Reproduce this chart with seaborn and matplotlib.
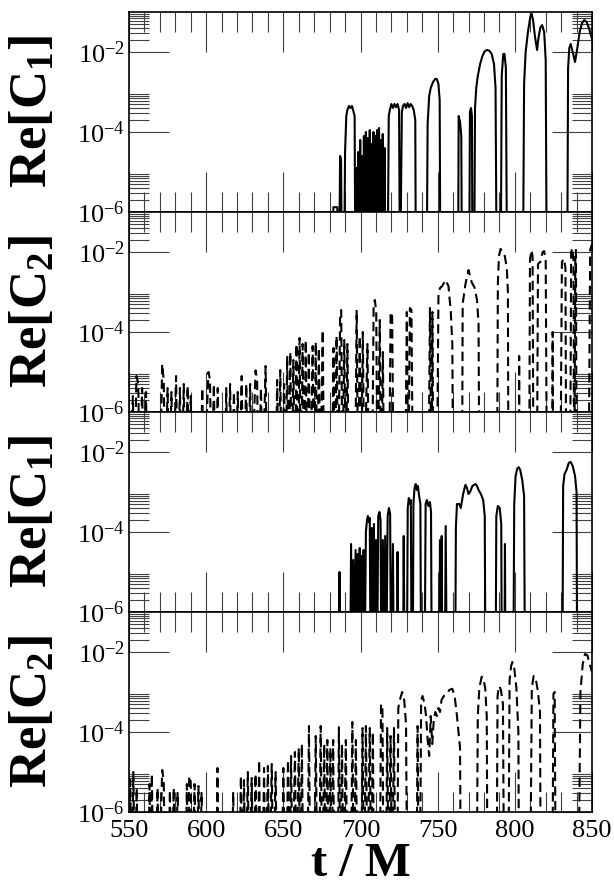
import numpy as np
import matplotlib
matplotlib.use("Agg")
import matplotlib.pyplot as plt
import seaborn as sns
from matplotlib.ticker import FixedLocator, MultipleLocator, LogFormatterMathtext, NullFormatter

# values are log10 of Re[C]; -8 means "below the plot floor"
t_p1 = [550, 682.3, 682.4, 685.0, 685.1, 686.0, 686.8, 687.4, 688.0,
        689.3, 690.0, 690.8, 691.5, 692.5, 693.5, 694.5, 695.5, 696.2, 696.7,
        697.5, 698.0, 698.5, 699.2, 699.8, 700.4, 701.0, 701.6, 702.2, 702.9,
        703.5, 704.2, 704.8, 705.4, 706.0, 706.7, 707.3, 707.9, 708.4, 709.0,
        709.6, 710.2, 710.8, 711.5, 712.0, 712.6, 713.2, 713.8, 714.4, 715.0,
        715.6, 716.2, 717.5, 718.3, 719.0, 720.0, 721.0, 722.0, 723.0, 724.0,
        725.0, 725.6, 726.8, 727.5, 728.5, 729.5, 730.5, 731.5, 732.5, 733.5,
        734.5, 735.5, 735.9, 742.8, 743.5, 744.5, 745.5, 747.0, 748.5, 749.5,
        750.5, 751.3, 751.8, 763.2, 763.6, 764.5, 765.3, 765.8, 770.4, 770.9,
        771.6, 772.2, 772.6, 773.6, 774.2, 775.0, 776.0, 777.5, 779.0, 780.5,
        782.0, 783.5, 785.0, 786.5, 787.5, 788.3, 790.8, 791.5, 792.5, 793.3,
        794.2, 795.0, 805.2, 806.0, 807.0, 808.5, 810.0, 810.8, 811.8, 813.0,
        814.4, 815.5, 816.6, 817.7, 819.0, 820.0, 820.7, 833.9, 834.5, 835.3,
        836.2, 837.5, 839.0, 840.5, 842.0, 843.5, 845.0, 846.5, 848.0, 850.0]
lg_p1 = [-8, -8, -5.88, -5.88, -8, -8, -4.6, -4.7, -8,
         -8, -4.5, -3.6, -3.45, -3.35, -3.4, -3.35, -3.5, -3.6, -8,
         -4.9, -8, -4.5, -8, -4.2, -8, -4.6, -8, -4.1, -8,
         -4.0, -8, -4.15, -8, -3.95, -8, -4.3, -8, -4.0, -8,
         -4.1, -8, -3.95, -8, -3.9, -8, -4.2, -8, -4.05, -8,
         -4.4, -8, -8, -3.6, -3.45, -3.3, -3.4, -3.3, -3.38, -3.3,
         -3.45, -8, -3.5, -3.35, -3.3, -3.4, -3.28, -3.38, -3.3, -3.35,
         -3.45, -3.7, -8, -8, -3.8, -3.1, -2.9, -2.75, -2.67, -2.68,
         -2.8, -3.2, -8, -8, -3.6, -3.75, -4.1, -8, -8, -3.5,
         -3.4, -3.6, -8, -8, -3.4, -2.9, -2.6, -2.3, -2.1, -1.98,
         -1.95, -1.97, -2.05, -2.3, -2.9, -8, -8, -2.6, -2.05, -2.05,
         -2.4, -8, -8, -2.8, -2.0, -1.5, -1.12, -1.04, -1.2, -1.6,
         -1.95, -1.6, -1.38, -1.33, -1.5, -2.2, -8, -8, -2.4, -1.9,
         -1.8, -2.0, -2.25, -1.9, -1.5, -1.28, -1.2, -1.25, -1.4, -1.67]

t_p2 = [550, 552.5, 553.5, 554.8, 556.0, 557.0, 558.5, 559.5, 561.0, 562.0,
        570.0, 571.5, 572.5, 573.5, 575.0, 576.0, 577.5, 578.5, 580.5, 581.5,
        583.0, 584.0, 585.5, 586.5, 588.0, 589.0, 590.0, 591.0, 596.0, 597.5,
        598.5, 601.5, 602.5, 603.5, 605.0, 606.0, 607.5, 608.5, 612.0, 613.0,
        614.0, 615.5, 616.5, 618.0, 619.0, 620.5, 621.5, 623.0, 624.0, 626.0,
        627.0, 628.5, 629.5, 632.0, 633.0, 634.0, 635.5, 636.5, 638.5, 639.5,
        645.0, 646.0, 647.0, 648.0, 649.0, 650.5, 651.5, 652.5, 653.5, 654.5,
        655.5, 656.5, 657.5, 658.5, 659.5, 660.5, 661.5, 662.5, 663.5, 664.5,
        665.5, 666.5, 667.5, 669.0, 670.0, 671.0, 672.0, 673.0, 674.0, 675.5,
        676.5, 681.5, 682.5, 683.5, 684.5, 685.5, 686.8, 687.5, 688.3, 689.5,
        690.5, 691.5, 692.5, 696.5, 697.5, 698.5, 699.5, 700.5, 701.5, 702.5,
        704.5, 705.5, 707.5, 708.5, 709.3, 710.2, 711.0, 712.5, 713.3, 714.5,
        715.3, 718.5, 719.5, 720.5, 721.5, 729.0, 730.0, 731.0, 732.0, 733.0,
        734.0, 744.0, 745.0, 746.0, 746.6, 747.2, 749.5, 750.5, 751.5, 753.0,
        755.0, 757.0, 758.5, 759.5, 760.0, 765.8, 766.2, 768.0, 770.0, 772.0,
        774.0, 775.5, 776.5, 777.0, 788.5, 789.0, 789.7, 790.8, 792.0, 793.5,
        794.8, 795.5, 795.9, 802.5, 802.8, 803.1, 809.3, 809.8, 810.7, 811.5,
        812.1, 814.3, 815.0, 816.5, 818.0, 819.0, 820.0, 820.8, 824.2, 824.5,
        824.8, 829.5, 830.5, 831.8, 832.8, 833.3, 835.8, 836.5, 837.3, 838.0,
        838.5, 839.2, 839.6, 840.0, 847.8, 848.8, 850.0]
lg_p2 = [-8, -5.6, -8, -5.1, -5.3, -8, -5.4, -8, -5.5, -8,
         -8, -4.8, -5.2, -8, -5.4, -8, -5.5, -8, -5.1, -8,
         -5.4, -8, -5.3, -8, -5.35, -8, -5.6, -8, -8, -5.4,
         -8, -5.0, -5.2, -8, -5.3, -8, -5.4, -8, -8, -5.4,
         -8, -5.3, -8, -5.5, -8, -5.5, -8, -5.1, -8, -5.3,
         -8, -5.3, -8, -4.96, -5.2, -8, -5.4, -8, -4.85, -8,
         -8, -5.2, -8, -4.95, -8, -5.3, -8, -4.6, -8, -4.5,
         -8, -4.7, -8, -4.3, -8, -4.15, -8, -4.3, -8, -4.2,
         -8, -4.5, -8, -4.35, -8, -4.25, -8, -4.4, -8, -3.95,
         -8, -8, -4.4, -8, -4.1, -8, -3.6, -3.45, -8, -4.2,
         -8, -4.3, -8, -8, -3.45, -8, -4.1, -8, -4.0, -8,
         -4.3, -8, -8, -3.35, -3.2, -3.5, -8, -3.7, -8, -4.5,
         -8, -8, -3.5, -3.6, -8, -8, -3.5, -8, -3.4, -3.45,
         -8, -8, -3.4, -8, -3.5, -8, -8, -3.1, -2.9, -2.85,
         -2.7, -2.85, -3.5, -4.3, -8, -8, -3.3, -2.8, -2.45, -2.75,
         -2.9, -3.2, -3.8, -8, -8, -2.8, -2.1, -1.92, -2.0, -2.1,
         -2.4, -3.0, -8, -8, -4.6, -8, -8, -2.2, -1.95, -2.1,
         -8, -8, -2.3, -2.25, -2.0, -1.98, -2.2, -8, -8, -4.0,
         -8, -8, -2.25, -2.17, -2.4, -8, -8, -2.0, -1.9, -2.2,
         -8, -2.1, -1.95, -8, -8, -1.95, -1.8]

t_p3 = [550, 685.8, 686.4, 686.9, 693.2, 693.9, 694.6, 695.3, 696.0, 696.8,
        697.4, 698.2, 698.8, 699.5, 700.1, 700.7, 701.3, 702.0, 702.6, 703.5,
        704.2, 704.8, 705.4, 706.0, 706.6, 707.4, 708.0, 708.7, 709.4, 710.1,
        710.7, 711.5, 712.3, 713.0, 713.6, 714.5, 715.2, 716.0, 716.6, 717.6,
        718.4, 719.2, 719.8, 721.0, 721.7, 723.6, 724.0, 724.6, 727.5, 728.0,
        728.6, 730.0, 730.6, 731.3, 732.0, 732.6, 733.2, 733.8, 734.3, 735.0,
        735.8, 736.5, 737.2, 738.0, 738.8, 739.3, 741.5, 742.2, 743.0, 744.0,
        745.0, 745.7, 746.2, 751.0, 751.5, 752.0, 752.6, 753.1, 754.6, 755.2,
        756.0, 761.3, 761.8, 762.5, 764.0, 765.0, 766.5, 768.0, 769.0, 770.0,
        771.0, 772.5, 774.5, 775.5, 776.5, 778.0, 779.5, 780.5, 781.0, 787.5,
        788.0, 789.0, 790.2, 791.2, 791.6, 793.2, 793.6, 794.0, 799.0, 799.6,
        800.5, 801.5, 802.5, 803.5, 804.8, 806.0, 806.6, 830.8, 831.3, 832.2,
        833.5, 835.0, 836.2, 837.5, 839.0, 840.0, 840.4, 850.0]
lg_p3 = [-8, -8, -5.0, -8, -8, -4.3, -8, -4.7, -8, -4.45,
         -8, -4.55, -8, -4.4, -8, -4.6, -8, -4.45, -8, -4.0,
         -3.7, -3.6, -3.75, -3.65, -8, -3.9, -8, -3.8, -8, -4.2,
         -8, -3.6, -3.5, -3.7, -8, -4.2, -8, -4.1, -8, -3.6,
         -3.4, -3.55, -8, -4.3, -8, -8, -4.5, -8, -8, -4.1,
         -8, -8, -3.4, -3.15, -3.3, -3.2, -8, -8, -3.3, -2.9,
         -2.8, -2.95, -2.85, -3.1, -3.3, -8, -8, -3.3, -3.2, -3.35,
         -3.25, -3.5, -8, -8, -4.2, -8, -4.1, -8, -8, -3.85,
         -8, -8, -3.9, -3.3, -3.3, -3.4, -3.05, -2.82, -2.9, -3.05,
         -3.0, -2.85, -2.8, -2.85, -2.95, -3.05, -3.2, -3.6, -8, -8,
         -3.6, -3.35, -3.4, -3.8, -8, -8, -4.3, -8, -8, -3.3,
         -2.6, -2.42, -2.38, -2.45, -2.7, -3.1, -8, -8, -2.85, -2.55,
         -2.45, -2.27, -2.25, -2.35, -2.6, -3.0, -8, -8]

t_p4 = [550, 550.8, 551.6, 552.8, 553.8, 555.0, 556.0, 562.5, 563.3, 564.0,
        564.8, 565.8, 567.5, 568.5, 569.5, 571.5, 572.5, 573.5, 575.5, 576.5,
        577.5, 579.0, 580.0, 581.5, 582.5, 586.5, 587.5, 588.3, 589.0, 590.0,
        591.0, 592.5, 593.5, 595.0, 596.0, 597.0, 598.0, 606.5, 607.3, 608.2,
        616.5, 617.5, 618.5, 621.5, 622.5, 623.5, 624.5, 625.5, 627.0, 628.0,
        629.5, 630.5, 632.0, 633.0, 633.6, 634.3, 635.3, 636.5, 637.5, 638.5,
        640.0, 641.0, 642.5, 643.5, 645.0, 646.0, 649.0, 650.0, 651.0, 652.0,
        653.0, 654.0, 655.0, 656.0, 657.5, 658.5, 660.0, 661.0, 662.0, 663.0,
        665.5, 666.6, 667.5, 670.0, 671.0, 672.0, 673.2, 674.2, 675.2, 676.5,
        677.3, 678.5, 679.3, 680.5, 681.2, 682.3, 683.0, 685.3, 686.0, 687.0,
        688.0, 689.0, 690.5, 691.5, 693.8, 694.7, 695.7, 697.0, 698.0, 700.5,
        701.3, 702.3, 703.5, 704.5, 706.0, 707.0, 708.0, 708.8, 712.5, 713.3,
        714.2, 715.0, 716.5, 717.3, 718.2, 719.5, 720.5, 721.7, 722.6, 723.8,
        724.5, 725.5, 727.0, 728.3, 729.5, 730.2, 736.3, 737.0, 737.7, 738.5,
        739.3, 740.2, 741.5, 742.5, 743.5, 744.5, 745.5, 746.5, 747.5, 748.5,
        749.5, 750.5, 751.5, 752.5, 754.0, 756.0, 757.5, 759.5, 761.0, 762.5,
        764.5, 765.0, 775.3, 776.0, 777.0, 778.5, 779.5, 780.8, 781.8, 782.3,
        788.2, 788.8, 789.8, 791.0, 792.3, 793.0, 795.8, 796.6, 797.6, 798.4,
        799.6, 801.0, 802.3, 802.7, 810.0, 811.0, 812.2, 813.5, 815.0, 816.3,
        816.8, 824.3, 825.0, 825.8, 826.5, 841.3, 842.5, 844.0, 845.5, 847.0,
        848.5, 850.0]
lg_p4 = [-8, -5.2, -8, -5.0, -8, -5.4, -8, -8, -5.3, -8,
         -5.05, -8, -8, -5.4, -8, -4.95, -5.2, -8, -8, -5.45,
         -8, -5.4, -8, -5.5, -8, -8, -5.3, -8, -5.1, -5.25,
         -8, -5.3, -8, -5.35, -8, -5.5, -8, -8, -4.9, -8,
         -8, -5.5, -8, -8, -5.1, -8, -5.2, -8, -5.0, -8,
         -5.15, -8, -5.05, -8, -8, -4.7, -8, -8, -4.9, -8,
         -4.85, -8, -4.8, -8, -5.0, -8, -8, -4.9, -8, -8,
         -4.7, -8, -4.6, -8, -4.5, -8, -4.4, -8, -4.3, -8,
         -8, -3.85, -8, -8, -4.1, -8, -8, -3.85, -8, -4.3,
         -8, -4.2, -8, -4.4, -8, -4.2, -8, -8, -3.88, -8,
         -4.3, -8, -4.2, -8, -8, -3.75, -8, -4.2, -8, -8,
         -3.9, -8, -3.85, -8, -3.9, -8, -4.0, -8, -8, -3.3,
         -3.4, -8, -8, -3.9, -8, -4.1, -8, -3.9, -8, -8,
         -3.4, -3.2, -3.0, -3.2, -3.8, -8, -8, -3.85, -8, -8,
         -3.2, -3.1, -3.3, -3.6, -4.2, -4.6, -3.6, -4.3, -3.7, -3.5,
         -3.6, -3.4, -3.5, -3.2, -3.1, -3.05, -2.95, -2.92, -3.1, -3.6,
         -4.4, -8, -8, -3.6, -2.9, -2.62, -2.65, -2.9, -3.6, -8,
         -8, -3.1, -2.85, -2.95, -3.3, -8, -8, -2.7, -2.35, -2.25,
         -2.4, -2.9, -4.0, -8, -8, -2.9, -2.6, -2.65, -3.0, -3.5,
         -8, -8, -3.05, -3.0, -8, -8, -3.0, -2.3, -2.05, -2.08,
         -2.3, -2.5]

ylabels = [r"$\mathbf{Re[C_1]}$", r"$\mathbf{Re[C_2]}$",
           r"$\mathbf{Re[C_1]}$", r"$\mathbf{Re[C_2]}$"]
series = [(t_p1, lg_p1, "-"), (t_p2, lg_p2, "--"),
          (t_p3, lg_p3, "-"), (t_p4, lg_p4, "--")]

sns.set_style("ticks")
plt.rcParams["font.family"] = ["Liberation Serif", "DejaVu Serif"]
plt.rcParams["mathtext.fontset"] = "custom"
plt.rcParams["mathtext.rm"] = "Liberation Serif"
plt.rcParams["mathtext.bf"] = "Liberation Serif:bold"
plt.rcParams["mathtext.it"] = "Liberation Serif:italic"
plt.rcParams["text.color"] = "black"
plt.rcParams["axes.labelcolor"] = "black"
plt.rcParams["xtick.labelcolor"] = "black"
plt.rcParams["ytick.labelcolor"] = "black"

W, H = 614, 888
fig = plt.figure(figsize=(W / 100, H / 100), dpi=100)

left, right = 129, 592
panel_h = 200
top0 = 12

axes = []
for i, (tt, lg, ls) in enumerate(series):
    top = top0 + i * panel_h
    ax = fig.add_axes([left / W, 1 - (top + panel_h) / H,
                       (right - left) / W, panel_h / H])
    vals = 10.0 ** np.array(lg)
    sns.lineplot(x=tt, y=vals, ax=ax, color="black", lw=1.5,
                 sort=False, estimator=None)
    line = ax.lines[-1]
    if ls == "--":
        line.set_dashes((4.5, 2.5))
    ax.set_yscale("log")
    ax.set_xlim(550, 850)
    ax.set_ylim(1e-6, 1e-1)

    ax.xaxis.set_major_locator(FixedLocator([550, 600, 650, 700, 750, 800, 850]))
    ax.xaxis.set_minor_locator(MultipleLocator(10))
    ax.yaxis.set_major_locator(FixedLocator([1e-6, 1e-4, 1e-2]))
    ax.yaxis.set_minor_locator(FixedLocator(
        [k * 10.0 ** e for e in (-6, -4, -2) for k in range(2, 10)]))
    ax.yaxis.set_major_formatter(LogFormatterMathtext())
    ax.yaxis.set_minor_formatter(NullFormatter())
    ax.tick_params(which="both", direction="in", top=True, right=True,
                   width=0.8, color="0.25", labelsize=19, labelcolor="black")
    ax.tick_params(which="major", length=29, pad=3)
    ax.tick_params(which="minor", length=14.5)
    ax.tick_params(axis="x", which="major", pad=6)
    if i < 3:
        ax.tick_params(axis="x", labelbottom=False)
    for sp in ax.spines.values():
        sp.set_linewidth(1.2)
        sp.set_color("black")
    ax.set_ylabel(ylabels[i], fontsize=38, va="center")
    ax.yaxis.set_label_coords(-0.205, 0.5)
    ax.set_xlabel("")
    axes.append(ax)

axes[-1].set_xlabel("t / M", fontsize=35, fontweight="bold", va="top")
axes[-1].xaxis.set_label_coords(0.5, -0.15)

fig.savefig("out.png", dpi=100)
